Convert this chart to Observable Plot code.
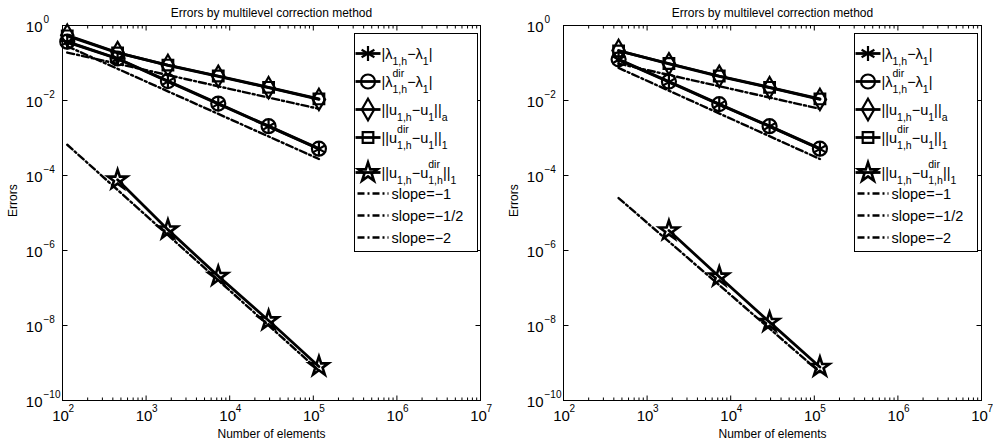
<!DOCTYPE html>
<html><head><meta charset="utf-8">
<script src="https://cdn.jsdelivr.net/npm/d3@7"></script>
<script src="https://cdn.jsdelivr.net/npm/@observablehq/plot@0.6"></script>
<style>
html,body{margin:0;padding:0;background:#fff;}
#wrap{position:relative;width:993px;height:448px;overflow:hidden;}
#wrap svg{position:absolute;top:0;}
</style></head><body><div id="wrap"></div>
<script>
const FONT = '"Liberation Sans", Arial, Helvetica, sans-serif';
const titleText = "Errors by multilevel correction method";
const xLabelText = "Number of elements";
const yLabelText = "Errors";
const xDomain = [1e2, 1e7];
const yDomain = [1e-10, 1];
const xMajorTicks = [1e2, 1e3, 1e4, 1e5, 1e6, 1e7];
const xTickExp = ["2", "3", "4", "5", "6", "7"];
const yMajorTicks = [1, 1e-2, 1e-4, 1e-6, 1e-8, 1e-10];
const yTickExp = ["0", "−2", "−4", "−6", "−8", "−10"];
const minorMultipliers = [2, 3, 4, 5, 6, 7, 8, 9];

// ---- left panel data ----
const nLeft = [114, 456, 1824, 7296, 29184, 116736];
const lamErrLeft = [0.36, 0.13, 0.032, 0.0081, 0.00204, 0.00051];
const lamDirErrLeft = [0.37, 0.132, 0.033, 0.0083, 0.00207, 0.00052];
const energyErrLeft = [0.55, 0.19, 0.086, 0.044, 0.022, 0.0107];
const dirH1ErrLeft = [0.53, 0.185, 0.088, 0.045, 0.0225, 0.011];
const nStarLeft = [456, 1824, 7296, 29184, 116736];
const diffErrLeft = [7.7e-5, 3.6e-6, 2.07e-7, 1.36e-8, 8.1e-10];
const guideNLeft = [114, 116736];
const slope1Left = [0.28, 2.75e-4];
const slopeHalfLeft = [0.19, 6.0e-3];
const slope2Left = [6.6e-4, 6.3e-10];

// ---- right panel data ----
const nRight = [456, 1824, 7296, 29184, 116736];
const lamErrRight = [0.122, 0.031, 0.0078, 0.00204, 0.00051];
const lamDirErrRight = [0.125, 0.032, 0.0080, 0.00207, 0.00052];
const energyErrRight = [0.215, 0.095, 0.044, 0.022, 0.0107];
const dirH1ErrRight = [0.21, 0.097, 0.045, 0.0225, 0.011];
const nStarRight = [1824, 7296, 29184, 116736];
const diffErrRight = [3.4e-6, 2.0e-7, 1.23e-8, 7.8e-10];
const guideNRight = [456, 116736];
const slope1Right = [0.074, 2.75e-4];
const slopeHalfRight = [0.096, 6.0e-3];
const slope2Right = [2.5e-5, 5.7e-10];

// ---- series / legend ----
const seriesKeys = ["lam", "lamDir", "energy", "dirH1", "diff"];
const seriesSymbols = ["asterisk", "circle", "diamond", "square", "star"];
const seriesR = [7, 7, 6.5, 6, 6];
const guideKeys = ["slope1", "slopeHalf", "slope2"];
const legendLabels = [
  [{t: "|λ"}, {sub: "1,h"}, {t: "−λ"}, {sub: "1"}, {t: "|"}],
  [{t: "|λ"}, {sup: "dir", sub: "1,h"}, {t: "−λ"}, {sub: "1"}, {t: "|"}],
  [{t: "||u"}, {sub: "1,h"}, {t: "−u"}, {sub: "1"}, {t: "||"}, {sub: "a"}],
  [{t: "||u"}, {sup: "dir", sub: "1,h"}, {t: "−u"}, {sub: "1"}, {t: "||"}, {sub: "1"}],
  [{t: "||u"}, {sub: "1,h"}, {t: "−u"}, {sup: "dir", sub: "1,h"}, {t: "||"}, {sub: "1"}],
  [{t: "slope=−1"}],
  [{t: "slope=−1/2"}],
  [{t: "slope=−2"}]
];

const DASH = "7,3,2,3";
const symbolMap = {asterisk: d3.symbolAsterisk, circle: d3.symbolCircle, diamond: d3.symbolDiamond, square: d3.symbolSquare, star: d3.symbolStar};

function tickShape(dx, dy) {
  return {draw(ctx) { ctx.moveTo(0, 0); ctx.lineTo(dx, dy); }};
}

function minorTicks() {
  const out = [];
  for (const d of xMajorTicks.slice(0, -1)) for (const m of minorMultipliers) out.push(d * m);
  return out;
}

function buildPanel(p) {
  const lineData = [];
  p.series.forEach((s, si) => s.n.forEach((n, i) => lineData.push({n, v: s.v[i], key: seriesKeys[si]})));
  const guideData = [];
  p.guides.forEach((g, gi) => g.n.forEach((n, i) => guideData.push({n, v: g.v[i], key: guideKeys[gi]})));
  const minors = minorTicks();
  const tickStyle = {stroke: "black", fill: "none", strokeWidth: 1};
  const marks = [
    Plot.frame({stroke: "black", strokeWidth: 1}),
    Plot.dot(xMajorTicks, {x: d => d, y: () => yDomain[0], symbol: tickShape(0, -5), ...tickStyle}),
    Plot.dot(xMajorTicks, {x: d => d, y: () => yDomain[1], symbol: tickShape(0, 5), ...tickStyle}),
    Plot.dot(minors, {x: d => d, y: () => yDomain[0], symbol: tickShape(0, -3), ...tickStyle}),
    Plot.dot(minors, {x: d => d, y: () => yDomain[1], symbol: tickShape(0, 3), ...tickStyle}),
    Plot.dot(yMajorTicks, {x: () => xDomain[0], y: d => d, symbol: tickShape(5, 0), ...tickStyle}),
    Plot.dot(yMajorTicks, {x: () => xDomain[1], y: d => d, symbol: tickShape(-5, 0), ...tickStyle}),
    Plot.text(xMajorTicks, {x: d => d, text: () => "10", frameAnchor: "bottom", dy: 20, dx: -2, fontSize: 15, textAnchor: "middle"}),
    Plot.text(xMajorTicks, {x: d => d, text: (d, i) => xTickExp[i], frameAnchor: "bottom", dy: 11.5, dx: 6, fontSize: 10, textAnchor: "start"}),
    Plot.text(yMajorTicks, {y: d => d, text: () => "10", frameAnchor: "left", dx: -20, dy: 1.5, fontSize: 15, textAnchor: "end"}),
    Plot.text(yMajorTicks, {y: d => d, text: (d, i) => yTickExp[i], frameAnchor: "left", dx: -19, dy: -5.5, fontSize: 10, textAnchor: "start"}),
    Plot.text([titleText], {text: d => d, frameAnchor: "top", dy: -17, fontSize: 12}),
    Plot.text([xLabelText], {text: d => d, frameAnchor: "bottom", dy: 37, fontSize: 12}),
    Plot.text([yLabelText], {text: d => d, frameAnchor: "left", dx: -49, dy: 4, rotate: -90, fontSize: 12}),
    Plot.line(guideData, {x: "n", y: "v", z: "key", stroke: "black", strokeWidth: 2.4, strokeDasharray: DASH}),
    Plot.line(lineData, {x: "n", y: "v", z: "key", stroke: "black", strokeWidth: 2.8}),
    ...seriesKeys.map((k, si) => Plot.dot(lineData.filter(d => d.key === k), {x: "n", y: "v", symbol: seriesSymbols[si], r: seriesR[si], stroke: "black", fill: "none", strokeWidth: si === 4 ? 2.6 : 2.2}))
  ];
  return Plot.plot({
    width: p.width, height: 448,
    marginLeft: p.mL, marginRight: p.mR, marginTop: 25, marginBottom: 48,
    x: {type: "log", domain: xDomain, axis: null},
    y: {type: "log", domain: yDomain, axis: null},
    style: {fontFamily: FONT, background: "white", color: "black", overflow: "visible"},
    marks
  });
}

function drawLegend(svgNode, x0, y0, w, h) {
  const g = d3.select(svgNode).append("g").attr("font-family", FONT).attr("fill", "black").attr("text-anchor", "start");
  g.append("rect").attr("x", x0).attr("y", y0).attr("width", w).attr("height", h)
    .attr("fill", "white").attr("stroke", "black").attr("stroke-width", 1);
  const rowOffsets = [20, 48, 76, 104, 139, 160, 182, 204];
  const MAIN = 14.5, SMALL = 10.5;
  legendLabels.forEach((parts, ri) => {
    const y = y0 + rowOffsets[ri];
    let x;
    if (ri < 5) {
      g.append("line").attr("x1", x0 + 1).attr("x2", x0 + 26).attr("y1", y).attr("y2", y)
        .attr("stroke", "black").attr("stroke-width", 2.8);
      g.append("path").attr("transform", `translate(${x0 + 13.5},${y})`)
        .attr("d", d3.symbol(symbolMap[seriesSymbols[ri]], Math.PI * seriesR[ri] ** 2)())
        .attr("fill", "none").attr("stroke", "black").attr("stroke-width", ri === 4 ? 2.6 : 2.2);
      x = x0 + 27;
    } else {
      g.append("line").attr("x1", x0 + 3).attr("x2", x0 + 34).attr("y1", y).attr("y2", y)
        .attr("stroke", "black").attr("stroke-width", 2.4).attr("stroke-dasharray", DASH);
      x = x0 + 37;
    }
    const put = (txt, xx, yy, fs) => {
      const t = g.append("text").attr("x", xx).attr("y", yy).attr("font-size", fs).attr("text-anchor", "start").text(txt);
      return t.node().getComputedTextLength();
    };
    for (const p of parts) {
      if (p.t) x += put(p.t, x, y + 5, MAIN);
      else {
        let wMax = 0;
        if (p.sub) wMax = Math.max(wMax, put(p.sub, x, y + 11.5, SMALL));
        if (p.sup) wMax = Math.max(wMax, put(p.sup, x, y - 4.5, SMALL));
        x += wMax;
      }
    }
  });
}

const wrap = document.getElementById("wrap");
const left = buildPanel({
  width: 500, mL: 62, mR: 20,
  series: [
    {n: nLeft, v: lamErrLeft}, {n: nLeft, v: lamDirErrLeft}, {n: nLeft, v: energyErrLeft},
    {n: nLeft, v: dirH1ErrLeft}, {n: nStarLeft, v: diffErrLeft}
  ],
  guides: [{n: guideNLeft, v: slope1Left}, {n: guideNLeft, v: slopeHalfLeft}, {n: guideNLeft, v: slope2Left}]
});
left.style.left = "0px";
wrap.appendChild(left);
const right = buildPanel({
  width: 493, mL: 63, mR: 12,
  series: [
    {n: nRight, v: lamErrRight}, {n: nRight, v: lamDirErrRight}, {n: nRight, v: energyErrRight},
    {n: nRight, v: dirH1ErrRight}, {n: nStarRight, v: diffErrRight}
  ],
  guides: [{n: guideNRight, v: slope1Right}, {n: guideNRight, v: slopeHalfRight}, {n: guideNRight, v: slope2Right}]
});
right.style.left = "500px";
wrap.appendChild(right);
drawLegend(left, 354.5, 33.5, 123, 218);
drawLegend(right, 354.5, 33.5, 123, 218);
</script></body></html>
